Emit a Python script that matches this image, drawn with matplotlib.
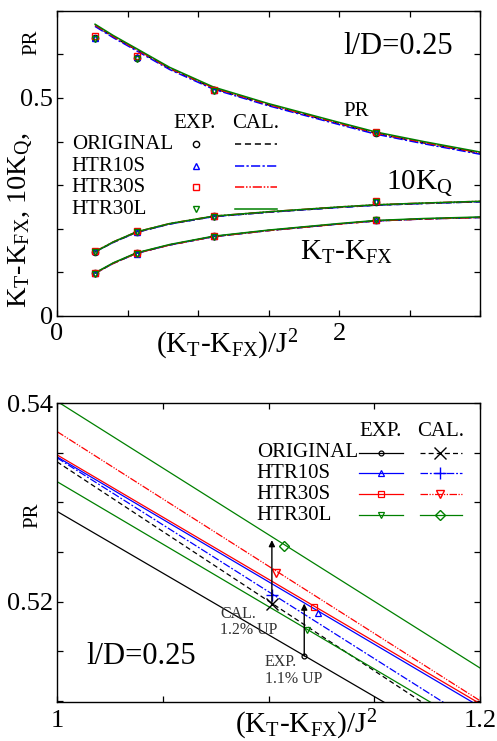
import matplotlib
matplotlib.use("Agg")
import matplotlib.pyplot as plt
import numpy as np

plt.rcParams['font.family'] = ['Liberation Serif', 'DejaVu Serif']
plt.rcParams['mathtext.fontset'] = 'custom'
plt.rcParams['mathtext.rm'] = 'Liberation Serif'
plt.rcParams['mathtext.it'] = 'Liberation Serif:italic'

# ---------------- data: top panel ----------------
series = ['ORIGINAL', 'HTR10S', 'HTR30S', 'HTR30L']
colors = ['black', 'blue', 'red', 'green']

x_exp = [0.27, 0.565, 1.11, 2.26]
pr_exp = {
    'ORIGINAL': [0.637, 0.592, 0.518, 0.420],
    'HTR10S':   [0.638, 0.593, 0.518, 0.421],
    'HTR30S':   [0.642, 0.596, 0.519, 0.422],
    'HTR30L':   [0.635, 0.590, 0.517, 0.419],
}
kq10_exp = {
    'ORIGINAL': [0.147, 0.193, 0.229, 0.262],
    'HTR10S':   [0.148, 0.193, 0.229, 0.263],
    'HTR30S':   [0.148, 0.194, 0.230, 0.263],
    'HTR30L':   [0.146, 0.192, 0.228, 0.261],
}
kt_exp = {
    'ORIGINAL': [0.098, 0.144, 0.183, 0.220],
    'HTR10S':   [0.098, 0.143, 0.183, 0.221],
    'HTR30S':   [0.099, 0.144, 0.184, 0.221],
    'HTR30L':   [0.097, 0.143, 0.182, 0.220],
}

x_cal = [0.27, 0.4, 0.565, 0.8, 1.11, 1.5, 2.0, 2.26, 2.6, 3.0]
pr_cal = {
    'ORIGINAL': [0.666, 0.640, 0.610, 0.567, 0.522, 0.484, 0.441, 0.419, 0.397, 0.373],
    'HTR10S':   [0.664, 0.638, 0.608, 0.565, 0.520, 0.482, 0.439, 0.417, 0.395, 0.371],
    'HTR30S':   [0.667, 0.641, 0.611, 0.568, 0.523, 0.485, 0.442, 0.420, 0.398, 0.374],
    'HTR30L':   [0.669, 0.643, 0.613, 0.570, 0.525, 0.487, 0.444, 0.422, 0.400, 0.376],
}
kq10_cal = {
    'ORIGINAL': [0.147, 0.169, 0.192, 0.211, 0.228, 0.238, 0.249, 0.254, 0.258, 0.262],
    'HTR10S':   [0.147, 0.169, 0.192, 0.211, 0.228, 0.238, 0.249, 0.254, 0.258, 0.262],
    'HTR30S':   [0.148, 0.170, 0.193, 0.212, 0.229, 0.239, 0.250, 0.255, 0.259, 0.263],
    'HTR30L':   [0.147, 0.170, 0.193, 0.212, 0.229, 0.239, 0.250, 0.255, 0.259, 0.263],
}
kt_cal = {
    'ORIGINAL': [0.098, 0.121, 0.144, 0.163, 0.182, 0.196, 0.211, 0.218, 0.2225, 0.226],
    'HTR10S':   [0.098, 0.121, 0.144, 0.163, 0.182, 0.196, 0.211, 0.218, 0.2225, 0.226],
    'HTR30S':   [0.098, 0.121, 0.144, 0.163, 0.182, 0.196, 0.211, 0.218, 0.2225, 0.226],
    'HTR30L':   [0.099, 0.122, 0.145, 0.164, 0.183, 0.197, 0.212, 0.219, 0.2235, 0.227],
}

top_xticks = [0, 0.5, 1.0, 1.5, 2.0, 2.5, 3.0]
top_xticklabels = ['0', '', '', '', '2', '', '']
top_yticks = [0, 0.1, 0.2, 0.3, 0.4, 0.5, 0.6, 0.7]
top_yticklabels = ['0', '', '', '', '', '0.5', '', '']

# ---------------- data: bottom panel ----------------
x_line = [1.0, 1.2]
exp_line = {
    'ORIGINAL': [0.5291, 0.5042],
    'HTR10S':   [0.5346, 0.5094],
    'HTR30S':   [0.5348, 0.5097],
    'HTR30L':   [0.5321, 0.5069],
}
cal_line = {
    'ORIGINAL': [0.5341, 0.5060],
    'HTR10S':   [0.5345, 0.5075],
    'HTR30S':   [0.53715, 0.5100],
    'HTR30L':   [0.5402, 0.5133],
}
exp_pt_x = {'ORIGINAL': 1.1169, 'HTR10S': 1.1236, 'HTR30S': 1.1216, 'HTR30L': 1.1181}
exp_pt_y = {'ORIGINAL': 0.5145, 'HTR10S': 0.5188, 'HTR30S': 0.5195, 'HTR30L': 0.5171}
cal_pt_x = {'ORIGINAL': 1.1016, 'HTR10S': 1.1016, 'HTR30S': 1.1036, 'HTR30L': 1.1071}
cal_pt_y = {'ORIGINAL': 0.5198, 'HTR10S': 0.5207, 'HTR30S': 0.5229, 'HTR30L': 0.5256}

bot_xticks = [1.0, 1.05, 1.1, 1.15, 1.2]
bot_xticklabels = ['1', '', '', '', '1.2']
bot_yticks = [0.51, 0.515, 0.52, 0.525, 0.53, 0.535, 0.54]
bot_yticklabels = ['', '', '0.52', '', '', '', '0.54']

# ---------------- styles ----------------
exp_markers = {'ORIGINAL': 'o', 'HTR10S': '^', 'HTR30S': 's', 'HTR30L': 'v'}
cal_ls = {'ORIGINAL': (0, (4, 2.5)), 'HTR10S': (0, (6, 1.5, 1.5, 1.5)),
          'HTR30S': (0, (6, 1.2, 1, 1.2, 1, 1.2)), 'HTR30L': '-'}
cal_markers = {'ORIGINAL': 'x', 'HTR10S': '+', 'HTR30S': 'v', 'HTR30L': 'D'}
cal_ms = {'ORIGINAL': 8, 'HTR10S': 8, 'HTR30S': 5.5, 'HTR30L': 5.5}
exp_ms = {'ORIGINAL': 3.5, 'HTR10S': 5, 'HTR30S': 4.5, 'HTR30L': 5}

W, H = 497, 741
fig = plt.figure(figsize=(W / 100, H / 100), dpi=100)

def style_axes(ax):
    for s in ax.spines.values():
        s.set_linewidth(1.0)
    ax.tick_params(direction='in', length=4.5, width=0.9, top=True, right=True,
                   labelsize=19)

# ---------------- top panel ----------------
ax1 = fig.add_axes([57 / W, 1 - 316 / H, 423 / W, 305.3 / H])
style_axes(ax1)
lw = 1.1
for s, c in zip(series, colors):
    ax1.plot(x_cal, pr_cal[s], color=c, ls=cal_ls[s], lw=lw)
    ax1.plot(x_cal, kq10_cal[s], color=c, ls=cal_ls[s], lw=lw)
    ax1.plot(x_cal, kt_cal[s], color=c, ls=cal_ls[s], lw=lw)
for s, c in zip(series, colors):
    for arr in (pr_exp, kq10_exp, kt_exp):
        ax1.plot(x_exp, arr[s], ls='none', marker=exp_markers[s], ms=4.5,
                 mfc='none', mec=c, mew=1.0)
ax1.set_xlim(0, 3.0)
ax1.set_ylim(0, 0.7)
ax1.set_xticks(top_xticks)
ax1.set_xticklabels(top_xticklabels)
ax1.set_yticks(top_yticks)
ax1.set_yticklabels(top_yticklabels)
ax1.tick_params(axis='x', pad=5)
ax1.tick_params(axis='y', pad=3)

ax1.text(2.03, 0.617, 'l/D=0.25', fontsize=22, va='center', ha='left')
ax1.text(2.03, 0.468, 'PR', fontsize=15, va='center', ha='left')
ax1.text(2.33, 0.305, r'10K$_\mathrm{Q}$', fontsize=21, va='center', ha='left')
ax1.text(1.72, 0.145, r'K$_\mathrm{T}$-K$_\mathrm{FX}$', fontsize=21, va='center', ha='left')

# legend top
tr = ax1.transAxes
ax1.text(0.326, 0.629, 'EXP.', transform=tr, fontsize=15, ha='center', va='center')
ax1.text(0.469, 0.629, 'CAL.', transform=tr, fontsize=15, ha='center', va='center')
rows_top = [0.563, 0.491, 0.422, 0.350]
for s, c, yy in zip(series, colors, rows_top):
    ax1.text(0.0347, yy, s, transform=tr, fontsize=15, ha='left', va='center')
    ax1.plot([0.329], [yy], transform=tr, ls='none', marker=exp_markers[s], ms=4.5,
             mfc='none', mec=c, mew=1.0)
    ax1.plot([0.421, 0.520], [yy, yy], transform=tr, color=c, ls=cal_ls[s], lw=lw)

fig.text(21 / W, 1 - 220 / H, r'K$_\mathrm{T}$-K$_\mathrm{FX}$, 10K$_\mathrm{Q}$,',
         rotation=90, fontsize=20.5, ha='center', va='center')
fig.text(32 / W, 1 - 42 / H, 'PR', rotation=90, fontsize=15, ha='center', va='center')
fig.text(227 / W, 1 - 345 / H, r'(K$_\mathrm{T}$-K$_\mathrm{FX}$)/J$^2$',
         fontsize=21, ha='center', va='center')

# ---------------- bottom panel ----------------
ax2 = fig.add_axes([57 / W, 1 - 701.7 / H, 423 / W, 298.4 / H])
style_axes(ax2)
for s, c in zip(series, colors):
    ax2.plot(x_line, exp_line[s], color=c, lw=0.9)
    ax2.plot(x_line, cal_line[s], color=c, ls=cal_ls[s], lw=0.9)
for s, c in zip(series, colors):
    ax2.plot([exp_pt_x[s]], [exp_pt_y[s]], ls='none', marker=exp_markers[s],
             ms=exp_ms[s], mfc='none', mec=c, mew=0.9)
    ax2.plot([cal_pt_x[s]], [cal_pt_y[s]], ls='none', marker=cal_markers[s],
             ms=cal_ms[s], mfc='none', mec=c, mew=1.0)

# arrows
ax2.annotate('', xy=(cal_pt_x['ORIGINAL'], 0.5262), xytext=(cal_pt_x['ORIGINAL'], cal_pt_y['ORIGINAL']),
             arrowprops=dict(arrowstyle='-|>', color='black', lw=1.0, mutation_scale=9,
                             shrinkA=0, shrinkB=0))
ax2.annotate('', xy=(exp_pt_x['ORIGINAL'], 0.5198), xytext=(exp_pt_x['ORIGINAL'], exp_pt_y['ORIGINAL']),
             arrowprops=dict(arrowstyle='-|>', color='black', lw=1.0, mutation_scale=9,
                             shrinkA=0, shrinkB=0))
ax2.text(1.0771, 0.5196, 'CAL.\n1.2% UP', fontsize=11.5, ha='left', va='top',
         color='#333333', linespacing=1.05)
ax2.text(1.0983, 0.5147, 'EXP.\n1.1% UP', fontsize=11.5, ha='left', va='top',
         color='#333333', linespacing=1.05)
ax2.text(1.0137, 0.5145, 'l/D=0.25', fontsize=22, ha='left', va='center')

ax2.set_xlim(1.0, 1.2)
ax2.set_ylim(0.5099, 0.54)
ax2.set_xticks(bot_xticks)
ax2.set_xticklabels(bot_xticklabels)
ax2.set_yticks(bot_yticks)
ax2.set_yticklabels(bot_yticklabels)
ax2.tick_params(axis='x', pad=6)
ax2.tick_params(axis='y', pad=3)

tr2 = ax2.transAxes
ax2.text(0.764, 0.905, 'EXP.', transform=tr2, fontsize=15, ha='center', va='center')
ax2.text(0.907, 0.905, 'CAL.', transform=tr2, fontsize=15, ha='center', va='center')
rows_bot = [0.834, 0.765, 0.695, 0.625]
for s, c, yy in zip(series, colors, rows_bot):
    ax2.text(0.472, yy, s, transform=tr2, fontsize=15, ha='left', va='center')
    ax2.plot([0.715, 0.817], [yy, yy], transform=tr2, color=c, lw=0.9, clip_on=False)
    ax2.plot([0.766], [yy], transform=tr2, ls='none', marker=exp_markers[s],
             ms=exp_ms[s], mfc='none', mec=c, mew=0.9)
    ax2.plot([0.857, 0.957], [yy, yy], transform=tr2, color=c, ls=cal_ls[s], lw=0.9, clip_on=False)
    ax2.plot([0.905], [yy], transform=tr2, ls='none', marker=cal_markers[s],
             ms=cal_ms[s], mfc='none', mec=c, mew=1.0)

fig.text(33 / W, 1 - 515 / H, 'PR', rotation=90, fontsize=15, ha='center', va='center')
fig.text(306 / W, 1 - 725 / H, r'(K$_\mathrm{T}$-K$_\mathrm{FX}$)/J$^2$',
         fontsize=21, ha='center', va='center')

fig.savefig('out.png', dpi=100)
